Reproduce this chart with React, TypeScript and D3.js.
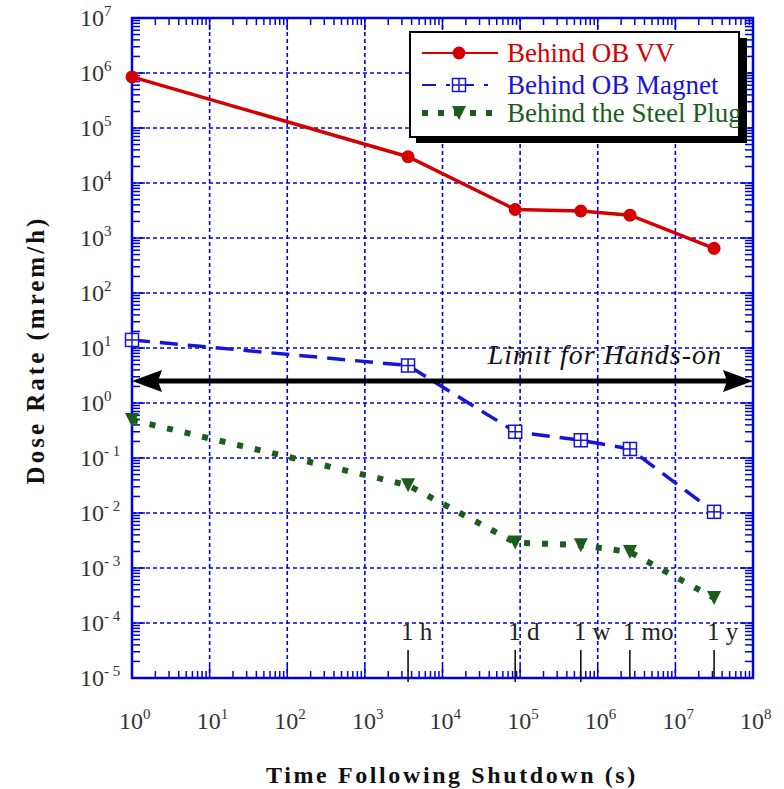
import React from "react";
import * as d3 from "d3";

const timeS = [1, 3600, 86400, 604800, 2.6e6, 3.15e7];
const behindVV = [8.5e5, 3.0e4, 3.3e3, 3.1e3, 2.6e3, 6.5e2];
const behindMagnet = [14, 4.8, 0.3, 0.21, 0.146, 0.0105];
const behindPlug = [0.49, 0.032, 0.0029, 0.0026, 0.00195, 2.85e-4];

const xDecades = [0, 1, 2, 3, 4, 5, 6, 7, 8];
const yDecades = [-5, -4, -3, -2, -1, 0, 1, 2, 3, 4, 5, 6, 7];

const markerLabels = ["1 h", "1 d", "1 w", "1 mo", "1 y"];
const markerTimes = [3600, 86400, 604800, 2.592e6, 3.1536e7];

const handsOnLimit = 2.5;
const legendLabels = ["Behind OB VV", "Behind OB Magnet", "Behind the Steel Plug"];

const W = 784;
const H = 789;
const L = 132, R = 753, T = 18, B = 678;
const SERIF = "'Liberation Serif', 'Times New Roman', serif";
const BLUE = "#0000e6";
const RED = "#d40000";
const DBLUE = "#1414dc";
const GREEN = "#1b5e1b";

export default function App() {
  const x = d3.scaleLog().domain([1, 1e8]).range([L, R]);
  const y = d3.scaleLog().domain([1e-5, 1e7]).range([B, T]);

  const line = d3
    .line<[number, number]>()
    .x((d) => x(d[0]))
    .y((d) => y(d[1]));

  const series = [behindVV, behindMagnet, behindPlug].map((vals) =>
    timeS.map((t, i) => [t, vals[i]] as [number, number])
  );

  const minorX: number[] = [];
  xDecades.slice(0, -1).forEach((e) => {
    for (let k = 2; k <= 9; k++) minorX.push(k * Math.pow(10, e));
  });
  const minorY: number[] = [];
  yDecades.slice(0, -1).forEach((e) => {
    for (let k = 2; k <= 9; k++) minorY.push(k * Math.pow(10, e));
  });

  const circle = (cx: number, cy: number, k: string) => (
    <circle key={k} cx={cx} cy={cy} r={6.5} fill={RED} />
  );
  const boxCross = (cx: number, cy: number, k: string) => (
    <g key={k}>
      <rect x={cx - 6.5} y={cy - 6.5} width={13} height={13} fill="white" stroke={DBLUE} strokeWidth={1.5} />
      <line x1={cx - 6.5} x2={cx + 6.5} y1={cy} y2={cy} stroke={DBLUE} strokeWidth={1.5} />
      <line x1={cx} x2={cx} y1={cy - 6.5} y2={cy + 6.5} stroke={DBLUE} strokeWidth={1.5} />
    </g>
  );
  const tri = (cx: number, cy: number, k: string) => (
    <path key={k} d={`M${cx - 7},${cy - 7}L${cx + 7},${cy - 7}L${cx},${cy + 7}Z`} fill={GREEN} />
  );

  const ay = y(handsOnLimit);

  return (
    <svg width={W} height={H} style={{ position: "absolute", left: 0, top: 0, background: "white" }}>
      <defs>
        <clipPath id="legclip">
          <rect x={410} y={32} width={329} height={105} />
        </clipPath>
      </defs>
      <rect x={0} y={0} width={W} height={H} fill="white" />
      {/* grid */}
      {xDecades.slice(1, -1).map((e) => (
        <line key={"gx" + e} x1={x(Math.pow(10, e))} x2={x(Math.pow(10, e))} y1={T} y2={B}
          stroke={BLUE} strokeWidth={1.6} strokeDasharray="4,3" />
      ))}
      {yDecades.slice(1, -1).map((e) => (
        <line key={"gy" + e} x1={L} x2={R} y1={y(Math.pow(10, e))} y2={y(Math.pow(10, e))}
          stroke={BLUE} strokeWidth={1.6} strokeDasharray="4,3" />
      ))}
      {/* ticks */}
      {minorX.map((v, i) => (
        <g key={"mx" + i}>
          <line x1={x(v)} x2={x(v)} y1={B} y2={B - 7} stroke={BLUE} strokeWidth={1.5} />
          <line x1={x(v)} x2={x(v)} y1={T} y2={T + 7} stroke={BLUE} strokeWidth={1.5} />
        </g>
      ))}
      {xDecades.map((e) => (
        <g key={"Mx" + e}>
          <line x1={x(Math.pow(10, e))} x2={x(Math.pow(10, e))} y1={B} y2={B - 12} stroke={BLUE} strokeWidth={1.5} />
          <line x1={x(Math.pow(10, e))} x2={x(Math.pow(10, e))} y1={T} y2={T + 12} stroke={BLUE} strokeWidth={1.5} />
        </g>
      ))}
      {minorY.map((v, i) => (
        <g key={"my" + i}>
          <line x1={L} x2={L + 8} y1={y(v)} y2={y(v)} stroke={BLUE} strokeWidth={1.5} />
          <line x1={R} x2={R - 8} y1={y(v)} y2={y(v)} stroke={BLUE} strokeWidth={1.5} />
        </g>
      ))}
      {yDecades.map((e) => (
        <g key={"My" + e}>
          <line x1={L} x2={L + 13} y1={y(Math.pow(10, e))} y2={y(Math.pow(10, e))} stroke={BLUE} strokeWidth={1.5} />
          <line x1={R} x2={R - 13} y1={y(Math.pow(10, e))} y2={y(Math.pow(10, e))} stroke={BLUE} strokeWidth={1.5} />
        </g>
      ))}
      <rect x={L} y={T} width={R - L} height={B - T} fill="none" stroke={BLUE} strokeWidth={2.5} />

      {/* time markers */}
      {markerTimes.map((t, i) => (
        <g key={"tm" + i}>
          <line x1={x(t)} x2={x(t)} y1={650} y2={i < 3 ? 682 : 679} stroke="#111" strokeWidth={1.6} />
          <text x={x(t) - 7} y={640} fontFamily={SERIF} fontSize={25} fill="#222">{markerLabels[i]}</text>
        </g>
      ))}

      {/* series */}
      <path d={line(series[0]) || ""} fill="none" stroke={RED} strokeWidth={3.5} />
      <path d={line(series[1]) || ""} fill="none" stroke={DBLUE} strokeWidth={3.5} strokeDasharray="18,10" />
      <path d={line(series[2]) || ""} fill="none" stroke={GREEN} strokeWidth={6} strokeDasharray="6,12" />
      {series[0].map((d, i) => circle(x(d[0]), y(d[1]), "c" + i))}
      {series[1].map((d, i) => boxCross(x(d[0]), y(d[1]), "b" + i))}
      {series[2].map((d, i) => tri(x(d[0]), y(d[1]), "t" + i))}

      {/* hands-on limit arrow */}
      <line x1={L + 20} x2={R - 20} y1={ay} y2={ay} stroke="#000" strokeWidth={5} />
      <path d={`M${L},${ay}L${L + 30},${ay - 11}L${L + 26},${ay}L${L + 30},${ay + 11}Z`} fill="#000" />
      <path d={`M${R},${ay}L${R - 30},${ay - 11}L${R - 26},${ay}L${R - 30},${ay + 11}Z`} fill="#000" />
      <text x={722} y={364} textAnchor="end" fontFamily={SERIF} fontStyle="italic" fontSize={28}
        letterSpacing={1} fill="#111">
        Limit for Hands-on
      </text>

      {/* legend */}
      <rect x={416} y={38} width={331} height={105} fill="#000" />
      <rect x={410} y={32} width={329} height={105} fill="white" stroke="#000" strokeWidth={2} />
      <g clipPath="url(#legclip)">
        <line x1={422} x2={498} y1={53} y2={53} stroke={RED} strokeWidth={2} />
        {circle(459, 53, "lc")}
        <line x1={422} x2={498} y1={85} y2={85} stroke={DBLUE} strokeWidth={2} strokeDasharray="14,10,4,10" />
        {boxCross(459, 85, "lb")}
        <line x1={422} x2={498} y1={113} y2={113} stroke={GREEN} strokeWidth={6} strokeDasharray="6,10" />
        {tri(459, 113, "lt")}
        <text x={507} y={62} fontFamily={SERIF} fontSize={27} fill={RED}>{legendLabels[0]}</text>
        <text x={507} y={94} fontFamily={SERIF} fontSize={27} fill={DBLUE}>{legendLabels[1]}</text>
        <text x={507} y={122} fontFamily={SERIF} fontSize={27} fill={GREEN}>{legendLabels[2]}</text>
      </g>

      {/* tick labels */}
      {yDecades.map((e) => (
        <text key={"yl" + e} x={80} y={y(Math.pow(10, e)) + 8} fontFamily={SERIF} fontSize={24} fill="#333">
          10
          <tspan dy={-10} fontSize={15}>{e < 0 ? "- " + Math.abs(e) : String(e)}</tspan>
        </text>
      ))}
      {xDecades.map((e) => (
        <text key={"xl" + e} x={x(Math.pow(10, e)) - 13} y={729} fontFamily={SERIF} fontSize={24} fill="#333">
          10
          <tspan dy={-10} fontSize={15}>{String(e)}</tspan>
        </text>
      ))}

      {/* axis titles */}
      <text x={452} y={783} textAnchor="middle" fontFamily={SERIF} fontWeight="bold" fontSize={24}
        letterSpacing={2.6} fill="#111">
        Time Following Shutdown (s)
      </text>
      <text transform={`translate(44,${350}) rotate(-90)`} textAnchor="middle" fontFamily={SERIF}
        fontWeight="bold" fontSize={25} letterSpacing={3} fill="#111">
        Dose Rate (mrem/h)
      </text>
    </svg>
  );
}
